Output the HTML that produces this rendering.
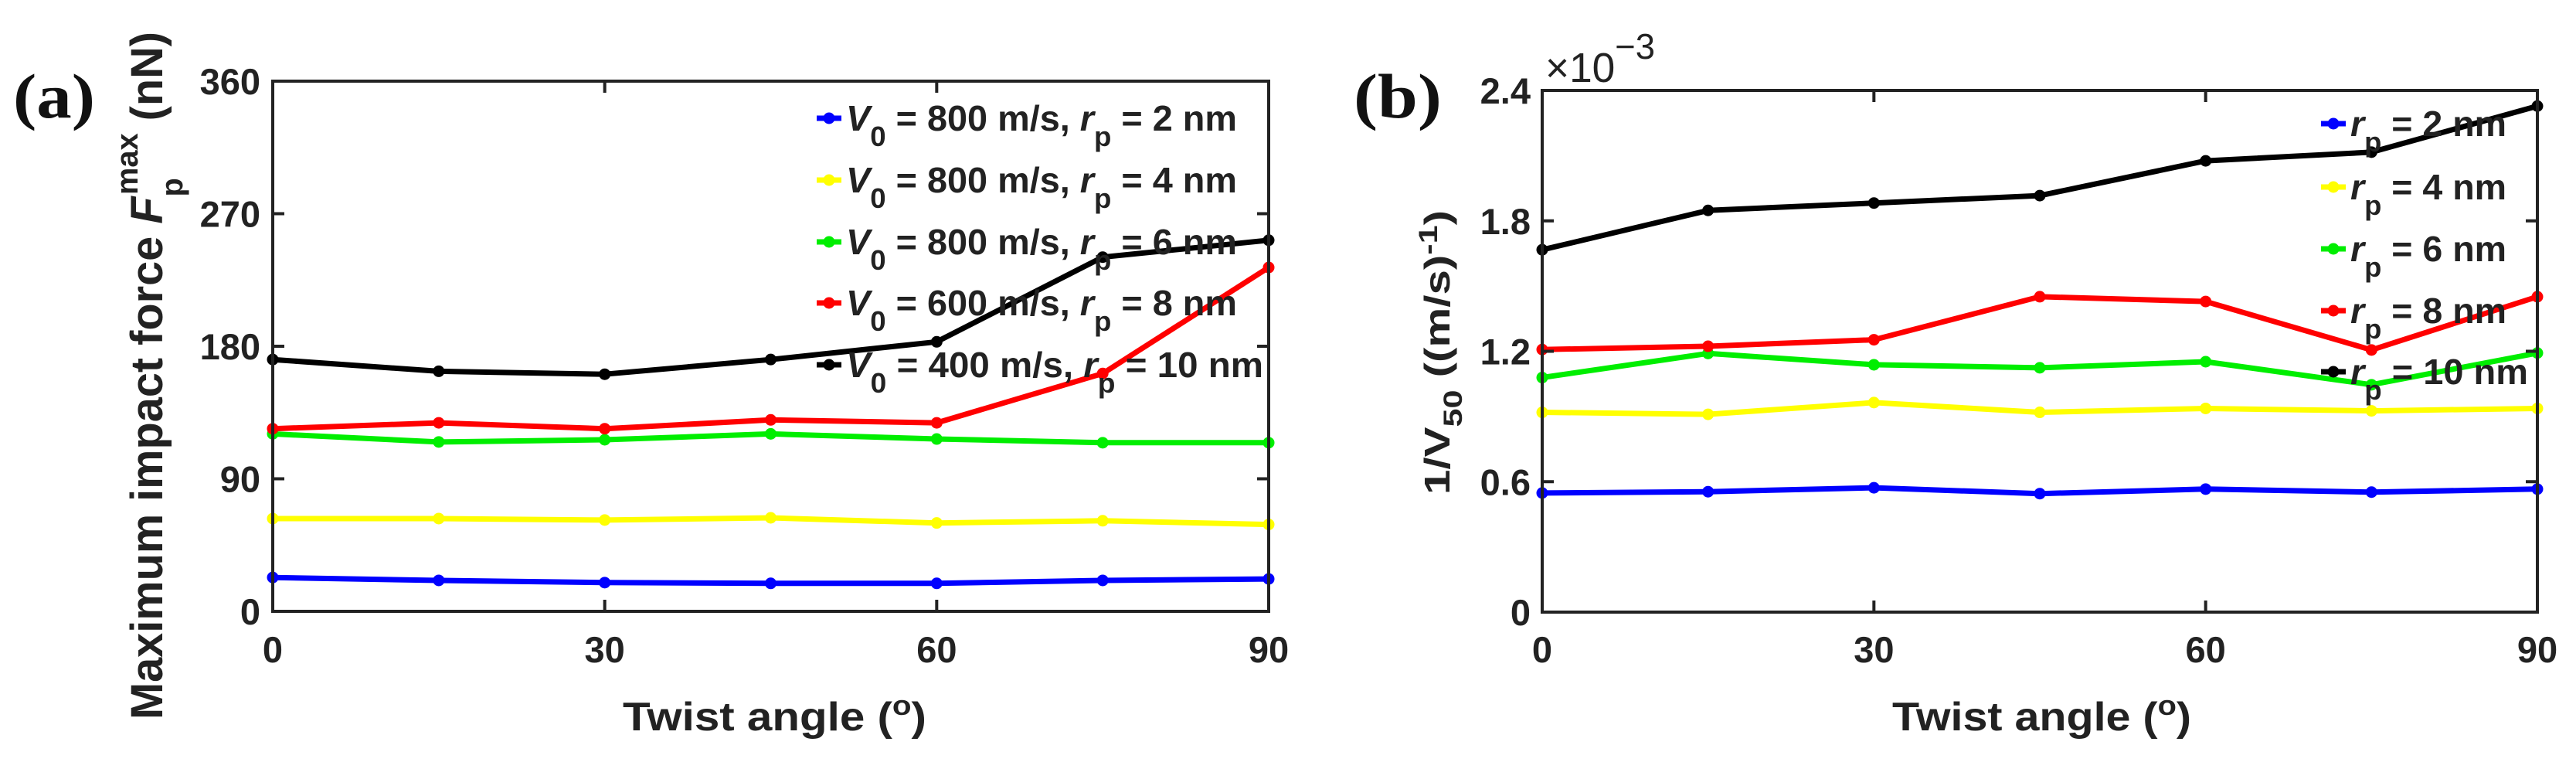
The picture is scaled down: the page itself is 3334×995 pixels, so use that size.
<!DOCTYPE html>
<html><head><meta charset="utf-8"><style>
html,body{margin:0;padding:0;background:#fff;}
svg{display:block;}
text{font-family:"Liberation Sans",sans-serif;fill:#222;}
</style></head><body>
<svg id="fig" width="3334" height="995" viewBox="0 0 3334 995" xmlns="http://www.w3.org/2000/svg">
<g id="pa"></g>
<g id="pb"></g>
</svg>
<script>
const angles = [0, 15, 30, 45, 60, 75, 90];
const xTicks = [0, 30, 60, 90];
// Panel (a) values (nN)
const aBlue   = [23, 21, 19.5, 19, 19, 21, 22];
const aYellow = [63, 63, 62, 63.5, 60, 61.5, 59];
const aGreen  = [120.5, 115, 116.5, 120.5, 117, 114.5, 114.5];
const aRed    = [124, 128, 124, 130, 128, 161.5, 233.5];
const aBlack  = [171, 163, 161, 171, 183, 240.5, 252];
const aYTicks = [0, 90, 180, 270, 360];
const aYTickLabels = ["0", "90", "180", "270", "360"];
const aLegendV = ["800", "800", "800", "600", "400"];
const aLegendR = ["2", "4", "6", "8", "10"];
// Panel (b) values (x10^-3 (m/s)^-1)
const bBlue   = [0.548, 0.554, 0.572, 0.545, 0.566, 0.552, 0.566];
const bYellow = [0.919, 0.910, 0.964, 0.919, 0.937, 0.926, 0.937];
const bGreen  = [1.079, 1.190, 1.138, 1.124, 1.152, 1.046, 1.192];
const bRed    = [1.208, 1.223, 1.253, 1.451, 1.429, 1.206, 1.451];
const bBlack  = [1.667, 1.848, 1.882, 1.916, 2.076, 2.116, 2.328];
const bYTicks = [0, 0.6, 1.2, 1.8, 2.4];
const bYTickLabels = ["0", "0.6", "1.2", "1.8", "2.4"];
const bLegendR = ["2", "4", "6", "8", "10"];

const NS = "http://www.w3.org/2000/svg";
const colors = ["#0000ff", "#ffff00", "#00ee00", "#ff0000", "#000000"];
const colorNames = ["blue", "yellow", "green", "red", "black"];

function mk(tag, attrs, parent) {
  const e = document.createElementNS(NS, tag);
  for (const k in attrs) e.setAttribute(k, attrs[k]);
  if (parent) parent.appendChild(e);
  return e;
}
function tsp(parent, txt, attrs) {
  const t = mk("tspan", attrs || {}, parent);
  t.textContent = txt;
  return t;
}

function drawPanel(g, cfg) {
  const X = v => cfg.x0 + (v - 0) / 90 * (cfg.x1 - cfg.x0);
  const Y = v => cfg.y1 - (v - cfg.ymin) / (cfg.ymax - cfg.ymin) * (cfg.y1 - cfg.y0);
  cfg.series.forEach((s, i) => {
    const pts = angles.map((a, j) => X(a).toFixed(1) + "," + Y(s[j]).toFixed(1)).join(" ");
    const pl = mk("polyline", {points: pts, fill: "none", stroke: colors[i], "stroke-width": 7, "stroke-linejoin": "round"}, g);
    
    
    angles.forEach((a, j) => {
      const c = mk("circle", {cx: X(a), cy: Y(s[j]), r: 7.5, fill: colors[i]}, g);
      
      
    });
  });
  const box = mk("rect", {x: cfg.x0, y: cfg.y0, width: cfg.x1 - cfg.x0, height: cfg.y1 - cfg.y0, fill: "none", stroke: "#222", "stroke-width": 4}, g);
  
  
  xTicks.forEach(t => {
    const x = X(t);
    const tk = mk("path", {d: `M${x},${cfg.y1}v-15M${x},${cfg.y0}v15`, stroke: "#222", "stroke-width": 4}, g);
    
    
    const lb = mk("text", {x: x, y: 857, "text-anchor": "middle", "font-size": 47, "font-weight": "bold"}, g);
    lb.textContent = String(t);
    
    
  });
  cfg.yTicks.forEach((t, i) => {
    const y = Y(t);
    const tk = mk("path", {d: `M${cfg.x0},${y}h15M${cfg.x1},${y}h-15`, stroke: "#222", "stroke-width": 4}, g);
    
    
    const lb = mk("text", {x: cfg.ylabX, y: y + 17, "text-anchor": "end", "font-size": 47, "font-weight": "bold"}, g);
    lb.textContent = cfg.yTickLabels[i];
    
    
  });
  cfg.legendY.forEach((ly, i) => {
    const lg = mk("g", {}, g);
    
    
    mk("line", {x1: cfg.legX, y1: ly, x2: cfg.legX + 32, y2: ly, stroke: colors[i], "stroke-width": 7}, lg);
    mk("circle", {cx: cfg.legX + 16, cy: ly, r: 7.5, fill: colors[i]}, lg);
    const t = mk("text", {x: cfg.legX + 38, y: ly + 16, "font-size": 46, "font-weight": "bold", textLength: cfg.legW[i], lengthAdjust: "spacingAndGlyphs", style: 'font-family:"Liberation Sans Narrow","Liberation Sans",sans-serif'}, lg);
    cfg.legendText(t, i);
  });
}

const pa = document.getElementById("pa");
drawPanel(pa, {
  x0: 353, x1: 1642, y0: 105, y1: 791, ymin: 0, ymax: 360,
  series: [aBlue, aYellow, aGreen, aRed, aBlack],
  yTicks: aYTicks, yTickLabels: aYTickLabels, ylabX: 337,
  legendY: [153, 233, 313, 392, 472], legX: 1057,
  legW: [506, 506, 506, 506, 540],
  legendText: (t, i) => {
    tsp(t, "V", {"font-style": "italic"});
    tsp(t, "0", {dy: 20, "font-size": 36});
    tsp(t, " = " + aLegendV[i] + " m/s, ", {dy: -20});
    tsp(t, "r", {"font-style": "italic"});
    tsp(t, "p", {dy: 20, "font-size": 36});
    tsp(t, " = " + aLegendR[i] + " nm", {dy: -20});
  }
});
const pb = document.getElementById("pb");
drawPanel(pb, {
  x0: 1996, x1: 3284, y0: 117, y1: 792, ymin: 0, ymax: 2.4,
  series: [bBlue, bYellow, bGreen, bRed, bBlack],
  yTicks: bYTicks, yTickLabels: bYTickLabels, ylabX: 1981,
  legendY: [160, 242, 322, 402, 481], legX: 3004,
  legW: [202, 202, 202, 202, 230],
  legendText: (t, i) => {
    tsp(t, "r", {"font-style": "italic"});
    tsp(t, "p", {dy: 20, "font-size": 36});
    tsp(t, " = " + bLegendR[i] + " nm", {dy: -20});
  }
});

function label(parent, attrs, name) {
  const t = mk("text", attrs, parent);
  
  
  return t;
}
let t;
t = label(pa, {x: 17, y: 152, "font-size": 82, "font-weight": "bold", textLength: 106, lengthAdjust: "spacingAndGlyphs", style: 'font-family:"Liberation Serif",serif;fill:#111'}, 'panel-label-a');
t.textContent = "(a)";
t = label(pb, {x: 1752, y: 152, "font-size": 82, "font-weight": "bold", textLength: 114, lengthAdjust: "spacingAndGlyphs", style: 'font-family:"Liberation Serif",serif;fill:#111'}, 'panel-label-b');
t.textContent = "(b)";

t = label(pa, {x: 806, y: 945, "font-size": 52, "font-weight": "bold", textLength: 393, lengthAdjust: "spacingAndGlyphs", style: 'font-family:"Liberation Sans Narrow","Liberation Sans",sans-serif'}, 'x-axis-title');
tsp(t, "Twist angle ("); tsp(t, "o", {dy: -20, "font-size": 36}); tsp(t, ")", {dy: 20});
t = label(pb, {x: 2449, y: 945, "font-size": 52, "font-weight": "bold", textLength: 387, lengthAdjust: "spacingAndGlyphs", style: 'font-family:"Liberation Sans Narrow","Liberation Sans",sans-serif'}, 'x-axis-title');
tsp(t, "Twist angle ("); tsp(t, "o", {dy: -20, "font-size": 36}); tsp(t, ")", {dy: 20});

const ga = mk("g", {transform: "translate(210,0) rotate(-90)"}, pa);
t = label(ga, {x: -931, y: 0, "font-size": 58, "font-weight": "bold", textLength: 890, lengthAdjust: "spacingAndGlyphs"}, 'y-axis-title');
tsp(t, "Maximum impact force ");
tsp(t, "F", {"font-style": "italic"});
tsp(t, "p", {dy: 26, "font-size": 40});
tsp(t, "max", {dx: -22, dy: -58, "font-size": 40});
tsp(t, " (nN)", {dy: 32});

const gb = mk("g", {transform: "translate(1876,0) rotate(-90)"}, pb);
t = label(gb, {x: -640, y: 0, "font-size": 46, "font-weight": "bold", textLength: 368, lengthAdjust: "spacingAndGlyphs"}, 'y-axis-title');
tsp(t, "1/V");
tsp(t, "50", {dy: 16, "font-size": 34});
tsp(t, " ((m/s)", {dy: -16});
tsp(t, "-1", {dy: -16, "font-size": 34});
tsp(t, ")", {dy: 16});

t = label(pb, {x: 2000, y: 106, "font-size": 54, textLength: 142, lengthAdjust: "spacingAndGlyphs"}, 'y-axis-exponent');
tsp(t, "×10");
tsp(t, "−3", {dy: -30, "font-size": 46});
</script>
</body></html>
